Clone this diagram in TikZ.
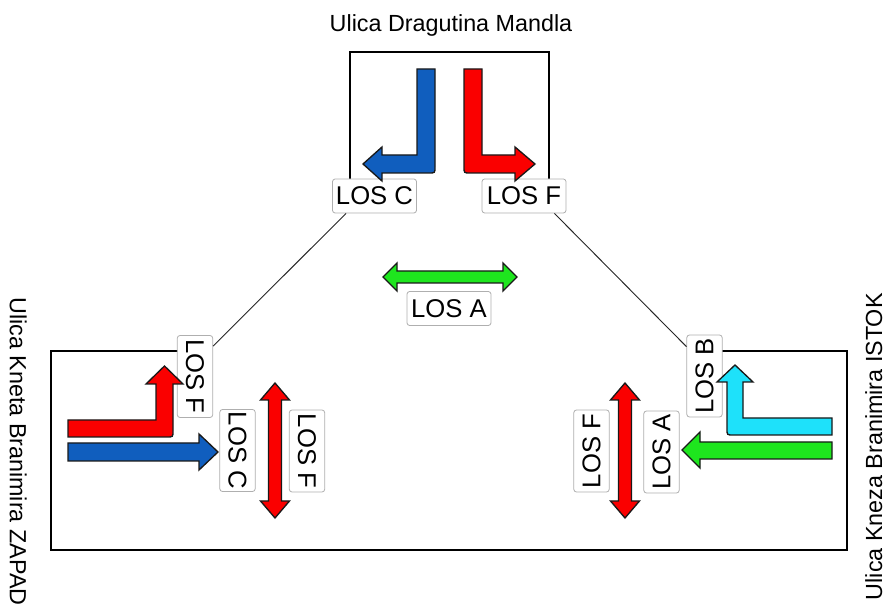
\documentclass[tikz,border=0pt]{standalone}
\usepackage{fontspec}
\setmainfont{Liberation Sans}
\definecolor{arred}{RGB}{250,0,0}
\definecolor{arblue}{RGB}{16,94,190}
\definecolor{arcyan}{RGB}{30,225,250}
\definecolor{argreen}{RGB}{30,230,30}
\definecolor{lblgray}{RGB}{175,175,175}
\begin{document}
\begin{tikzpicture}[x=0.75pt,y=-0.75pt,
  los/.style={draw=lblgray, fill=white, rounded corners=2pt, inner sep=0pt, line width=0.6pt,
              font=\fontsize{19.25}{20}\selectfont},
  loshor/.style={los, minimum width=63pt, minimum height=25.5pt},
  losver/.style={los, minimum width=26.5pt, minimum height=61.5pt},
  street/.style={font=\fontsize{17.5}{18}\selectfont, inner sep=0pt},
  arshape/.style={draw=black!90, line width=1pt, line join=miter},
  framel/.style={draw=black, line width=0.9pt},
  diag/.style={draw=black!85, line width=0.7pt}]
\useasboundingbox (0,0) rectangle (890,605);

% street names
\node[street, anchor=base] (tn) at (451,32) {Ulica Dragutina Mandla};
\node[street, rotate=-90, anchor=base west] (wn) at (10,297) {Ulica Kneta Branimira ZAPAD};
\node[street, rotate=90, anchor=base east] (en) at (882,293) {Ulica Kneza Branimira ISTOK};

% frames
\draw[framel] (350,190) -- (350,52) -- (549,52) -- (549,190);
\draw[framel] (190,351) -- (51,351) -- (51,550) -- (847,550) -- (847,351) -- (710,351);

% labels
\node[loshor] (lcT) at (374.5,196) {LOS C};
\node[loshor] (lfT) at (524,196) {LOS F};
\node[loshor] (la)  at (449,308.5) {LOS A};
\node[losver] (lfL) at (195,376.5) {\rotatebox{-90}{LOS F}};
\node[losver] (lcL) at (237.5,450.5) {\rotatebox{-90}{LOS C}};
\node[losver] (lfM) at (307,451) {\rotatebox{-90}{LOS F}};
\node[losver] (lb)  at (704.5,376) {\rotatebox{90}{LOS B}};
\node[losver] (laR) at (661.5,452) {\rotatebox{90}{LOS A}};
\node[losver] (lfR) at (591.5,451) {\rotatebox{90}{LOS F}};

% connectors
\draw[diag] ([xshift=10.5pt]lcT.south west) -- ([yshift=-8.25pt]lfL.north east);
\draw[diag] ([xshift=-9pt]lfT.south east) -- ([yshift=-9pt]lb.north west);

% top arrows
\filldraw[arshape, fill=arblue] (417,69) -- (435,69) -- (435,167) .. controls (435,173) .. (429,173)
  -- (382,173) -- (382,181) -- (363,164) -- (382,147) -- (382,155) -- (417,155) -- cycle;
\filldraw[arshape, fill=arred] (464,69) -- (482,69) -- (482,155) -- (515,155) -- (515,147)
  -- (535,164) -- (515,181) -- (515,173) -- (470,173) .. controls (464,173) .. (464,167) -- cycle;

% centre green double arrow
\filldraw[arshape, fill=argreen] (397,271) -- (397,263) -- (383,277) -- (397,291) -- (397,283)
  -- (503,283) -- (503,291) -- (517,277) -- (503,263) -- (503,271) -- cycle;

% left arrows
\filldraw[arshape, fill=arred] (68,420) -- (156,420) -- (156,384) -- (146,384) -- (164.5,366)
  -- (183,384) -- (173,384) -- (173,431) .. controls (173,437) .. (167,437) -- (68,437) -- cycle;
\filldraw[arshape, fill=arblue] (68,443) -- (199,443) -- (199,434) -- (218,452) -- (199,470)
  -- (199,461) -- (68,461) -- cycle;
\filldraw[arshape, fill=arred] (268.5,400) -- (260.5,400) -- (275,383) -- (289.5,400) -- (281.5,400)
  -- (281.5,501) -- (289.5,501) -- (275,518) -- (260.5,501) -- (268.5,501) -- cycle;

% right arrows
\filldraw[arshape, fill=arcyan] (832,418) -- (743,418) -- (743,382) -- (753,382) -- (735,365)
  -- (717,382) -- (727,382) -- (727,429) .. controls (727,435) .. (733,435) -- (832,435) -- cycle;
\filldraw[arshape, fill=argreen] (832,442) -- (700,442) -- (700,432) -- (682,450) -- (700,468)
  -- (700,459) -- (832,459) -- cycle;
\filldraw[arshape, fill=arred] (618.5,400) -- (610.5,400) -- (625,383) -- (639.5,400) -- (631.5,400)
  -- (631.5,501) -- (639.5,501) -- (625,518) -- (610.5,501) -- (618.5,501) -- cycle;
\end{tikzpicture}
\end{document}
